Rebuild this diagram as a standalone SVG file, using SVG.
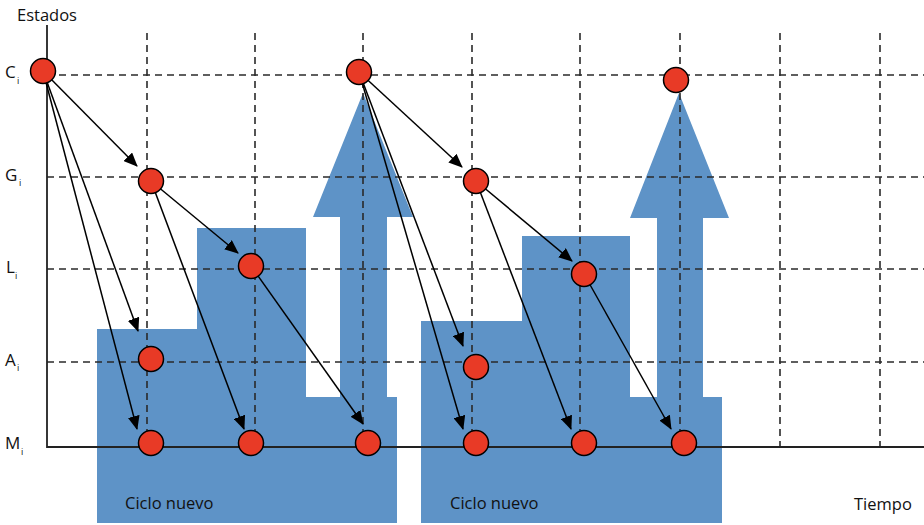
<svg xmlns="http://www.w3.org/2000/svg" width="924" height="525" viewBox="0 0 924 525">
<defs>
<marker id="ah" markerWidth="14" markerHeight="12" refX="13" refY="6" orient="auto" markerUnits="userSpaceOnUse">
<path d="M0,0 L14,6 L0,12 Z" fill="#000"/>
</marker>
<style>
.blue{fill:#5e93c7}
.dash{stroke:#2a2a2a;stroke-width:1.6;stroke-dasharray:7,5;fill:none}
.axis{stroke:#222;stroke-width:1.8;fill:none}
.conn{stroke:#000;stroke-width:1.5;fill:none;marker-end:url(#ah)}
.node{fill:#e83a26;stroke:#000;stroke-width:1.5}
.t{font-family:"Open Sans","Noto Sans",sans-serif;font-size:16.5px;fill:#111}
.l{font-family:"Open Sans","Noto Sans",sans-serif;font-size:17px;fill:#111}
.s{font-family:"Open Sans","Noto Sans",sans-serif;font-size:9px;fill:#111}
</style>
</defs>
<rect width="924" height="525" fill="#fff"/>
<g id="ciclo1">
<rect class="blue" x="97" y="329" width="100" height="194"/>
<rect class="blue" x="197" y="228" width="109" height="295"/>
<rect class="blue" x="97" y="397" width="300" height="126"/>
<polygon class="blue" points="363,93 413,217 387,217 387,397 340,397 340,217 313,217"/>
<text class="t" x="125" y="509">Ciclo nuevo</text>
</g>
<g id="ciclo2">
<rect class="blue" x="421" y="321" width="101" height="202"/>
<rect class="blue" x="522" y="236" width="108" height="287"/>
<rect class="blue" x="630" y="397" width="92" height="126"/>
<polygon class="blue" points="679,93 729,218 703,218 703,397 657,397 657,218 630,218"/>
<text class="t" x="450" y="509">Ciclo nuevo</text>
</g>
<g id="grid">
<path class="dash" d="M47,75H924M47,177H924M47,269H924M47,362H924"/>
<path class="dash" d="M147,33V447M255,33V447M363,33V447M472,33V447M580,33V447M680,33V447M780,33V447M880,33V447"/>
<path class="axis" d="M47,25V447H924"/>
</g>
<g id="labels">
<text class="t" x="17" y="21">Estados</text>
<text class="l" x="5" y="78">C</text><text class="s" x="17" y="84">i</text>
<text class="l" x="5" y="181">G</text><text class="s" x="19" y="186">i</text>
<text class="l" x="6" y="273">L</text><text class="s" x="15" y="279">i</text>
<text class="l" x="5" y="366">A</text><text class="s" x="17" y="371">i</text>
<text class="l" x="5" y="449">M</text><text class="s" x="21" y="455">i</text>
<text class="t" x="854" y="510">Tiempo</text>
</g>
<g id="connectors">
<line class="conn" x1="43" y1="71" x2="137" y2="166"/>
<line class="conn" x1="43" y1="71" x2="138" y2="331"/>
<line class="conn" x1="43" y1="71" x2="137" y2="429"/>
<line class="conn" x1="151" y1="181" x2="238" y2="253"/>
<line class="conn" x1="151" y1="181" x2="244" y2="429"/>
<line class="conn" x1="251" y1="266" x2="363" y2="424"/>
<line class="conn" x1="359" y1="72" x2="462" y2="167"/>
<line class="conn" x1="359" y1="72" x2="463" y2="346"/>
<line class="conn" x1="359" y1="72" x2="463" y2="429"/>
<line class="conn" x1="476" y1="181" x2="572" y2="261"/>
<line class="conn" x1="476" y1="181" x2="571" y2="429"/>
<line class="conn" x1="584" y1="274" x2="671" y2="429"/>
</g>
<g id="nodes">
<circle id="C1" class="node" cx="43" cy="71" r="12.5"/>
<circle id="G1" class="node" cx="151" cy="181" r="12.5"/>
<circle id="L1" class="node" cx="251" cy="266" r="12.5"/>
<circle id="A1" class="node" cx="151" cy="359" r="12.5"/>
<circle id="M1" class="node" cx="151" cy="443" r="12.5"/>
<circle id="M2" class="node" cx="251" cy="443" r="12.5"/>
<circle id="M3" class="node" cx="368" cy="443" r="12.5"/>
<circle id="C2" class="node" cx="359" cy="72" r="12.5"/>
<circle id="G2" class="node" cx="476" cy="181" r="12.5"/>
<circle id="L2" class="node" cx="584" cy="274" r="12.5"/>
<circle id="A2" class="node" cx="476" cy="367" r="12.5"/>
<circle id="M4" class="node" cx="476" cy="443" r="12.5"/>
<circle id="M5" class="node" cx="584" cy="443" r="12.5"/>
<circle id="M6" class="node" cx="684" cy="443" r="12.5"/>
<circle id="C3" class="node" cx="676" cy="80" r="12.5"/>
</g>
</svg>
